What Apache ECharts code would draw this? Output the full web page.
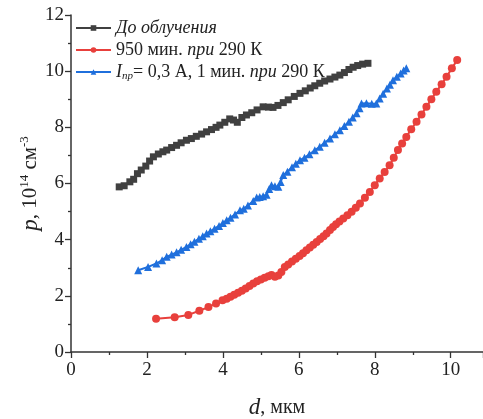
<!DOCTYPE html>
<html>
<head>
<meta charset="utf-8">
<script src="https://cdn.jsdelivr.net/npm/echarts@6/dist/echarts.min.js"></script>
<style>
  html, body { margin: 0; padding: 0; background: #fff; }
  #chart { width: 483px; height: 419px; }
</style>
</head>
<body>
<div id="chart"></div>
<script>
const seriesNames = ["До облучения", "950 мин. при 290 К", "Iпр = 0,3 А, 1 мин. при 290 К"];

const beforeIrr = [
  [1.27,5.88],[1.40,5.92],[1.55,6.06],[1.65,6.15],[1.75,6.35],[1.85,6.48],[1.97,6.62],[2.07,6.80],
  [2.17,6.95],[2.30,7.05],[2.42,7.13],[2.52,7.19],[2.65,7.28],[2.78,7.36],[2.90,7.45],[3.04,7.54],
  [3.17,7.60],[3.30,7.68],[3.44,7.76],[3.57,7.84],[3.70,7.92],[3.82,8.00],[3.92,8.08],[4.05,8.18],
  [4.18,8.30],[4.28,8.26],[4.38,8.18],[4.50,8.35],[4.62,8.44],[4.76,8.52],[4.90,8.62],[5.06,8.73],
  [5.20,8.72],[5.32,8.71],[5.45,8.78],[5.59,8.88],[5.72,8.98],[5.88,9.10],[6.03,9.21],[6.17,9.30],
  [6.30,9.40],[6.42,9.48],[6.55,9.57],[6.68,9.65],[6.82,9.72],[6.95,9.79],[7.08,9.86],[7.20,9.95],
  [7.32,10.06],[7.43,10.14],[7.55,10.20],[7.68,10.25],[7.82,10.28]
];

const after950 = [
  [2.24,1.18],[2.73,1.24],[3.09,1.32],[3.38,1.47],[3.62,1.60],[3.82,1.73],[3.99,1.84],[4.10,1.90],
  [4.20,1.97],[4.30,2.04],[4.40,2.11],[4.50,2.18],[4.60,2.26],[4.70,2.35],[4.80,2.44],[4.90,2.52],
  [5.00,2.58],[5.10,2.64],[5.20,2.70],[5.28,2.74],[5.37,2.68],[5.46,2.72],[5.54,2.85],[5.63,3.03],
  [5.72,3.12],[5.82,3.22],[5.92,3.32],[6.02,3.42],[6.11,3.52],[6.20,3.62],[6.29,3.72],[6.38,3.82],
  [6.47,3.92],[6.56,4.02],[6.65,4.12],[6.73,4.22],[6.82,4.34],[6.90,4.45],[6.98,4.55],[7.07,4.65],
  [7.17,4.75],[7.28,4.87],[7.39,4.99],[7.50,5.14],[7.61,5.29],[7.74,5.49],[7.87,5.70],[8.00,5.94],
  [8.13,6.18],[8.26,6.41],[8.39,6.65],[8.50,6.92],[8.61,7.19],[8.72,7.42],[8.83,7.66],[8.96,7.93],
  [9.10,8.20],[9.23,8.46],[9.36,8.73],[9.49,9.00],[9.62,9.27],[9.76,9.53],[9.89,9.80],[10.03,10.10],
  [10.17,10.40]
];

const afterCurrent = [
  [1.77,2.91],[2.03,3.03],[2.25,3.15],[2.40,3.27],[2.52,3.39],[2.65,3.47],[2.78,3.55],[2.90,3.64],
  [3.04,3.74],[3.15,3.84],[3.25,3.93],[3.37,4.03],[3.47,4.12],[3.57,4.22],[3.67,4.30],[3.78,4.39],
  [3.90,4.49],[4.00,4.59],[4.10,4.69],[4.20,4.78],[4.32,4.90],[4.45,5.05],[4.55,5.10],[4.66,5.22],
  [4.80,5.38],[4.89,5.50],[4.97,5.52],[5.06,5.55],[5.15,5.60],[5.22,5.80],[5.28,5.94],[5.37,5.90],
  [5.46,5.88],[5.52,6.05],[5.59,6.30],[5.70,6.42],[5.82,6.58],[5.92,6.70],[6.03,6.83],[6.15,6.92],
  [6.28,7.04],[6.42,7.18],[6.55,7.31],[6.68,7.45],[6.82,7.60],[6.95,7.75],[7.08,7.90],[7.20,8.05],
  [7.32,8.20],[7.42,8.35],[7.52,8.50],[7.60,8.68],[7.65,8.85],[7.78,8.86],[7.92,8.84],[8.04,8.85],
  [8.13,9.03],[8.22,9.20],[8.32,9.38],[8.40,9.52],[8.48,9.68],[8.58,9.80],[8.68,9.92],[8.76,10.02],
  [8.83,10.10]
];

const xTicks = { min: 0, max: 10.85, interval: 2 };
const yTicks = { min: 0, max: 12, interval: 2 };

const serif = "'Liberation Serif', 'DejaVu Serif', serif";
const ink = "#222";
const black = "#404040";
const red = "#e8403c";
const blue = "#1f6fdc";

const legendLabels = {
  [seriesNames[0]]: "{i|До облучения}",
  [seriesNames[1]]: "{n|950 мин. }{i|при}{n| 290 К}",
  [seriesNames[2]]: "{i|I}{sub|пр}{n|= 0,3 А, 1 мин. }{i|при}{n| 290 К}",
};

const chart = echarts.init(document.getElementById("chart"), null, { renderer: "canvas" });

const axisCommon = {
  axisLine: { show: true, lineStyle: { color: "#333", width: 1.5 } },
  axisTick: { show: true, inside: false, length: 6, lineStyle: { color: "#333", width: 1.3 } },
  minorTick: { show: true, splitNumber: 2, length: 3, lineStyle: { color: "#333", width: 1.3 } },
  splitLine: { show: false },
  axisLabel: { fontFamily: serif, fontSize: 19, color: ink },
  nameLocation: "middle",
  nameMoveOverlap: false,
};

chart.setOption({
  animation: false,
  backgroundColor: "#fff",
  grid: { left: 71, right: 0, top: 15, bottom: 67, containLabel: false, outerBoundsMode: "none" },
  legend: {
    orient: "vertical",
    left: 75,
    top: 19,
    padding: 0,
    itemGap: 4,
    itemWidth: 35,
    itemHeight: 7,
    data: seriesNames,
    formatter: (name) => legendLabels[name],
    textStyle: {
      fontFamily: serif,
      fontSize: 18,
      color: ink,
      rich: {
        n: { fontFamily: serif, fontSize: 18, color: ink },
        i: { fontFamily: serif, fontSize: 18, fontStyle: "italic", color: ink },
        sub: { fontFamily: serif, fontSize: 11, fontStyle: "italic", color: ink, padding: [9, 0, 0, 0] },
      },
    },
  },
  xAxis: {
    type: "value",
    ...axisCommon,
    min: xTicks.min,
    max: xTicks.max,
    interval: xTicks.interval,
    axisLabel: { ...axisCommon.axisLabel, margin: 9, showMaxLabel: false },
    name: "{i|d}{n|, мкм}",
    nameGap: 44,
    nameTextStyle: {
      fontFamily: serif,
      fontSize: 20,
      color: ink,
      rich: {
        i: { fontFamily: serif, fontSize: 23, fontStyle: "italic", color: ink },
        n: { fontFamily: serif, fontSize: 20, color: ink },
      },
    },
  },
  yAxis: {
    type: "value",
    ...axisCommon,
    min: yTicks.min,
    max: yTicks.max,
    interval: yTicks.interval,
    axisLabel: { ...axisCommon.axisLabel, margin: 7 },
    name: "{i|p}{n|, 10}{sup|14}{n| см}{sup|-3}",
    nameGap: 28,
    nameRotate: 90,
    nameTextStyle: {
      fontFamily: serif,
      fontSize: 21,
      color: ink,
      rich: {
        i: { fontFamily: serif, fontSize: 23, fontStyle: "italic", color: ink },
        n: { fontFamily: serif, fontSize: 21, color: ink },
        sup: { fontFamily: serif, fontSize: 13, color: ink, padding: [0, 0, 12, 0] },
      },
    },
  },
  series: [
    {
      name: seriesNames[0],
      type: "line",
      data: beforeIrr,
      symbol: "rect",
      symbolSize: 7,
      itemStyle: { color: black },
      lineStyle: { color: black, width: 2 },
    },
    {
      name: seriesNames[1],
      type: "line",
      data: after950,
      symbol: "circle",
      symbolSize: 8,
      itemStyle: { color: red },
      lineStyle: { color: red, width: 2 },
    },
    {
      name: seriesNames[2],
      type: "line",
      data: afterCurrent,
      symbol: "triangle",
      symbolSize: 8,
      itemStyle: { color: blue },
      lineStyle: { color: blue, width: 2 },
    },
  ],
});
</script>
</body>
</html>
